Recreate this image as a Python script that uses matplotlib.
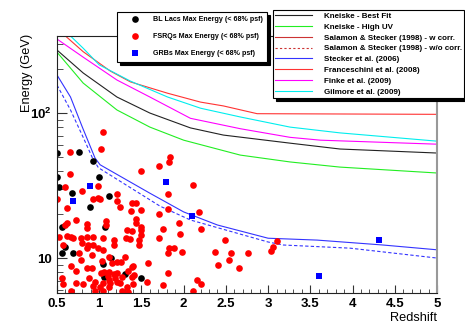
import matplotlib
matplotlib.use("Agg")
import matplotlib.pyplot as plt
from matplotlib.lines import Line2D
from matplotlib.ticker import FixedLocator, FixedFormatter, MultipleLocator, FormatStrFormatter, NullFormatter

# Max photon energies per source class (redshift, GeV).
bllac_z = [0.50, 0.76, 0.93, 0.50, 0.52, 0.68, 1.00, 1.11, 0.89, 0.56,
           1.07, 0.60, 0.56, 0.69, 1.14, 1.05, 1.06, 1.30, 1.49]
bllac_E = [53.0, 53.8, 46.7, 36.2, 30.9, 28.1, 36.2, 26.8, 22.5, 16.4,
           16.4, 11.9, 10.8, 10.8, 10.0, 9.1, 7.4, 7.76, 7.28]

fsrq_z = [1.05, 0.65, 1.02, 0.65, 0.99, 0.60, 0.80, 0.50, 0.93, 0.98,
          1.01, 1.21, 1.21, 0.62, 1.25, 1.39, 1.43, 1.38, 1.49, 0.62,
          0.59, 0.72, 0.85, 0.85, 1.08, 1.08, 1.43, 1.44, 1.33, 1.39,
          1.49, 1.49, 1.71, 0.52, 0.62, 0.66, 0.69, 0.78, 0.80, 0.86,
          0.93, 0.87, 0.93, 1.04, 0.98, 1.17, 1.17, 0.85, 1.49, 1.47,
          1.47, 1.32, 1.37, 0.57, 0.76, 0.91, 1.05, 1.11, 1.30, 1.26,
          1.58, 1.03, 1.15, 0.66, 0.72, 0.86, 0.92, 1.06, 1.11, 1.17,
          1.21, 1.27, 1.39, 1.39, 0.56, 0.57, 0.73, 0.81, 0.95, 0.93,
          1.04, 1.01, 1.11, 1.13, 1.11, 1.21, 1.25, 1.33, 1.40, 1.57,
          0.66, 0.95, 1.04, 1.27, 1.34, 0.79, 0.88, 1.19, 1.02, 1.10,
          1.34, 1.40, 1.41, 1.21, 1.84, 1.83, 1.71, 1.49, 2.11, 1.81,
          2.18, 1.81, 1.71, 1.95, 1.76, 2.20, 1.96, 2.49, 1.83, 1.88,
          1.82, 1.98, 2.37, 2.56, 2.54, 2.76, 2.41, 2.66, 1.82, 2.16,
          2.20, 1.75, 2.11, 3.11, 3.06, 3.04]
fsrq_E = [74.0, 53.8, 56.5, 37.9, 31.4, 30.9, 29.0, 25.5, 25.5, 25.9,
          25.5, 27.6, 24.7, 22.1, 22.5, 23.9, 23.9, 21.1, 21.4, 17.4,
          16.9, 18.3, 17.1, 16.1, 18.0, 16.9, 18.6, 17.4, 15.6, 15.3,
          16.4, 15.6, 13.7, 14.0, 14.2, 14.0, 13.7, 13.7, 12.7, 14.0,
          14.0, 12.3, 12.3, 13.7, 11.7, 13.3, 12.3, 11.7, 14.4, 13.3,
          12.3, 13.7, 13.5, 12.3, 10.8, 10.5, 11.4, 10.2, 10.2, 9.4,
          9.24, 9.6, 9.24, 8.81, 8.14, 8.54, 8.54, 8.01, 8.01, 7.76,
          7.88, 7.40, 8.67, 7.40, 7.28, 6.62, 6.72, 6.62, 6.83, 6.41,
          6.72, 6.31, 7.05, 6.72, 6.31, 6.83, 6.72, 6.31, 6.62, 6.83,
          5.9, 5.9, 5.9, 5.9, 5.85, 9.7, 7.28, 7.28, 7.88, 7.52,
          8.14, 8.81, 7.64, 9.4, 49.7, 45.9, 43.1, 39.8, 31.9, 27.6,
          20.8, 21.8, 20.1, 17.4, 15.8, 15.8, 14.6, 13.3, 11.7, 11.7,
          10.8, 11.0, 11.0, 10.8, 9.7, 10.8, 8.95, 8.54, 7.88, 7.05,
          6.62, 6.51, 5.9, 13.1, 11.9, 11.2]

grb_z = [0.69, 0.89, 1.79, 2.10, 3.60, 4.31]
grb_E = [24.7, 31.4, 33.4, 19.5, 7.5, 13.3]

# EBL model horizons (tau = 1).
kneiske_z = [0.5, 0.81, 1.21, 1.6, 2.08, 2.47, 3.26, 3.85, 5.0]
kneiske_E = [272, 189, 129, 100, 79, 70.5, 62, 56.5, 53]
highuv_z = [0.5, 0.81, 1.21, 1.6, 2.0, 2.67, 3.26, 3.85, 5.0]
highuv_E = [263, 161, 105, 80, 65, 51.3, 46, 42.4, 38.6]
stecker_z = [0.5, 0.66, 0.8, 0.95, 1.01, 1.6, 2.0, 2.4, 3.0, 3.58, 4.36, 5.0]
stecker_E = [183, 129, 80, 49, 44, 28, 20.8, 16.9, 13.7, 13.3, 12.3, 11.4]
stecker_lo_z = [0.5, 0.66, 0.81, 0.92, 0.99, 1.72, 2.08, 3.0, 3.18, 3.97, 5.0]
stecker_lo_E = [156, 105, 68, 49, 42, 22.8, 18.3, 12.9, 12.3, 11.7, 10.0]
franceschini_z = [0.5, 0.6, 0.81, 1.13, 1.37, 1.81, 2.2, 2.47, 2.87, 5.0]
franceschini_E = [420, 340, 265, 195, 164, 137, 119, 112, 99, 98]
finke_z = [0.5, 0.81, 1.21, 1.6, 2.08, 2.67, 3.26, 3.62, 5.0]
finke_E = [324, 243, 169, 129, 92, 78, 68, 65, 61]
gilmore_z = [0.5, 0.66, 0.81, 1.0, 1.37, 1.81, 2.2, 2.67, 3.26, 3.85, 5.0]
gilmore_E = [420, 340, 280, 215, 166, 129, 108, 94, 80, 73, 64]

plt.rcParams["font.family"] = "Liberation Sans"
plt.rcParams["font.weight"] = "bold"
plt.rcParams["mathtext.fontset"] = "custom"
plt.rcParams["mathtext.bf"] = "Liberation Sans:bold"
plt.rcParams["mathtext.rm"] = "Liberation Sans:bold"

fig = plt.figure(figsize=(4.65, 3.23), dpi=100)
ax = fig.add_axes([57/465, 1-293/323, 380/465, 257/323])

lw = 0.8
ax.plot(kneiske_z, kneiske_E, color="#222222", lw=lw)
ax.plot(highuv_z, highuv_E, color="#22ee22", lw=lw)
ax.plot(stecker_z, stecker_E, color="#3333ff", lw=lw)
ax.plot(stecker_lo_z, stecker_lo_E, color="#3333ff", lw=lw, ls=(0, (3, 2)))
ax.plot(franceschini_z, franceschini_E, color="#ff3333", lw=lw)
ax.plot(finke_z, finke_E, color="#ff00ff", lw=lw)
ax.plot(gilmore_z, gilmore_E, color="#00eeee", lw=lw)

ms = 4.8
ax.plot(bllac_z, bllac_E, "o", color="black", ms=ms, mew=0)
ax.plot(fsrq_z, fsrq_E, "o", color="#ff0000", ms=ms, mew=0)
ax.plot(grb_z, grb_E, "s", color="#0000ff", ms=4.5, mew=0)

ax.set_xlim(0.5, 5)
ax.set_yscale("log")
ax.set_ylim(5.74, 340)

ax.xaxis.set_major_locator(MultipleLocator(0.5))
ax.xaxis.set_minor_locator(MultipleLocator(0.1))
ax.xaxis.set_major_formatter(FormatStrFormatter("%g"))
ax.yaxis.set_major_locator(FixedLocator([10, 100]))
ax.yaxis.set_major_formatter(FixedFormatter(["10", r"$\mathbf{10^{2}}$"]))
ax.yaxis.set_minor_locator(FixedLocator([6, 7, 8, 9, 20, 30, 40, 50, 60, 70, 80, 90, 200, 300]))
ax.yaxis.set_minor_formatter(NullFormatter())

ax.tick_params(which="both", direction="in", top=False, right=False, color="#333333")
ax.tick_params(axis="x", which="major", length=6, pad=3.5, labelsize=9.5)
ax.tick_params(axis="x", which="minor", length=3)
ax.tick_params(axis="y", which="major", length=7, pad=4, labelsize=9.5)
ax.tick_params(axis="y", which="minor", length=4)

for side in ["left", "bottom", "top"]:
    ax.spines[side].set_color("#222222")
    ax.spines[side].set_linewidth(0.8)
ax.spines["right"].set_color("#999999")
ax.spines["right"].set_linewidth(1.5)

ax.set_xlabel("Redshift", loc="right", fontsize=9.2)
ax.xaxis.set_label_coords(1.0, -0.072)
ax.set_ylabel("Energy (GeV)", fontsize=9.2)
ax.yaxis.set_label_coords(-0.062, 0.858)

shadow = {"color": "black", "alpha": 1}

pointHandles = [
    Line2D([], [], ls="none", marker="o", color="black", ms=ms, mew=0),
    Line2D([], [], ls="none", marker="o", color="#ff0000", ms=ms, mew=0),
    Line2D([], [], ls="none", marker="s", color="#0000ff", ms=4.5, mew=0),
]
pointLabels = ["BL Lacs Max Energy (< 68% psf)", "FSRQs Max Energy (< 68% psf)", "GRBs Max Energy (< 68% psf)"]
leg1 = fig.legend(pointHandles, pointLabels, loc="upper left", bbox_to_anchor=(117/465, 1-12/323),
                  fontsize=5.15, fancybox=False, edgecolor="black", framealpha=1, borderaxespad=0,
                  borderpad=0.6, labelspacing=1.41, handlelength=3.83, handletextpad=0.6,
                  numpoints=1, shadow=shadow)
leg1.get_frame().set_linewidth(0.8)

lineHandles = [
    Line2D([], [], color="#222222", lw=lw),
    Line2D([], [], color="#22ee22", lw=lw),
    Line2D([], [], color="#cc3333", lw=lw),
    Line2D([], [], color="#cc3333", lw=lw, ls=(0, (2, 2))),
    Line2D([], [], color="#3333ff", lw=lw),
    Line2D([], [], color="#ff3333", lw=lw),
    Line2D([], [], color="#ff00ff", lw=lw),
    Line2D([], [], color="#00eeee", lw=lw),
]
lineLabels = ["Kneiske - Best Fit", "Kneiske - High UV", "Salamon & Stecker (1998) - w corr.",
              "Salamon & Stecker (1998) - w/o corr.", "Stecker et al. (2006)",
              "Franceschini et al. (2008)", "Finke et al. (2009)", "Gilmore et al. (2009)"]
leg2 = fig.legend(lineHandles, lineLabels, loc="upper left", bbox_to_anchor=(273/465, 1-10/323),
                  fontsize=5.8, fancybox=False, edgecolor="black", framealpha=1, borderaxespad=0,
                  borderpad=0.3, labelspacing=0.39, handlelength=4.5, handletextpad=1.5,
                  shadow=shadow)
leg2.get_frame().set_linewidth(0.8)

fig.savefig("out.png", dpi=100)
